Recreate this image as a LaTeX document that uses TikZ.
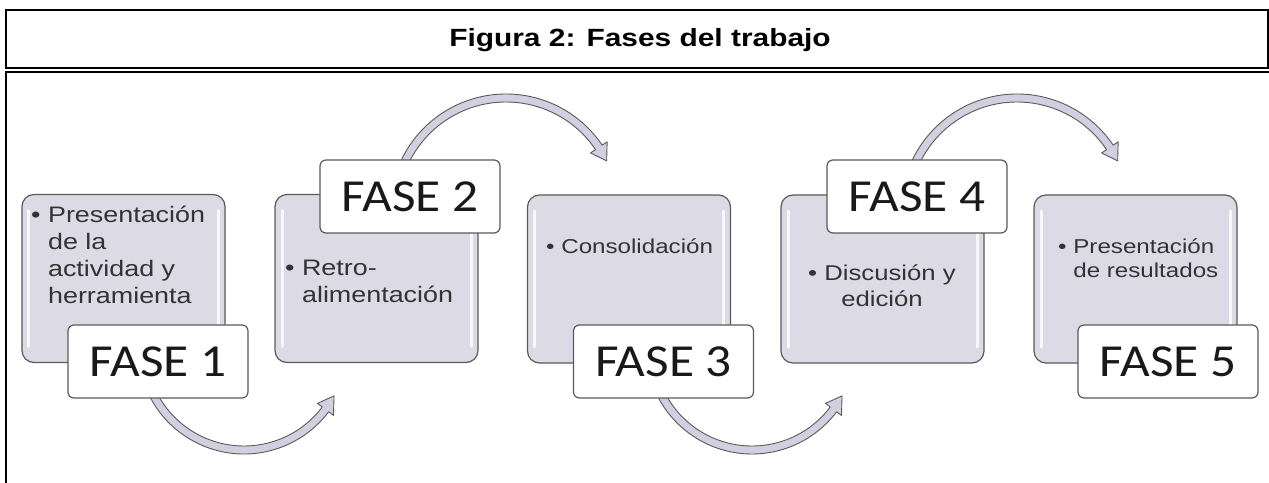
\documentclass[tikz,border=0pt]{standalone}
\usepackage{fontspec}
\setmainfont{Liberation Sans}
\newfontfamily\titlefont[FakeStretch=1.2]{Liberation Sans}
\newfontfamily\itemfont[FakeStretch=1.2]{Liberation Sans}
\newfontfamily\phasefont[FakeStretch=1.12]{Carlito}
\definecolor{boxgray}{HTML}{DCDAE4}
\definecolor{edgegray}{HTML}{5A5A5A}
\definecolor{arrowlav}{HTML}{D2D0E0}
\definecolor{textgray}{HTML}{333333}
\newcommand{\itm}{\textbullet\ }
\newcommand{\ind}{\phantom{\textbullet\ }}

\begin{document}
\begin{tikzpicture}[x=1bp,y=-1bp,
    bandarrow/.style={fill=arrowlav,draw=edgegray,line width=0.9bp,line join=round}]

    \useasboundingbox (0,0) rectangle (1269,483);

    % frame and caption
    \draw[line width=1.5bp] (6,10) rectangle (1268,68);
    \draw[line width=1.5bp] (6,483) -- (6,72) -- (1269,72);
    \node[anchor=base] (title) at (640,47) {\titlefont\bfseries\fontsize{25}{28}\selectfont Figura 2: Fases del trabajo};

    \begin{scope}[every node/.style={rectangle,rounded corners=12bp,draw=edgegray,line width=1.2bp,fill=boxgray,
        minimum width=203bp,minimum height=168bp,
        path picture={\draw[white,opacity=0.8,line width=3bp,line cap=round]
            ([shift={(7bp,-16bp)}]path picture bounding box.north west) -- ([shift={(7bp,16bp)}]path picture bounding box.south west)
            ([shift={(-7bp,-16bp)}]path picture bounding box.north east) -- ([shift={(-7bp,16bp)}]path picture bounding box.south east);}}]
        \node (g1) at (123.5,278.5) {}; % Presentacion
        \node (g2) at (376.5,278.5) {}; % Retroalimentacion
        \node (g3) at (629,279) {};
        \node (g4) at (882.5,279) {};
        \node (g5) at (1135.5,279) {};
    \end{scope}

    % centres of the curved arrows
    \coordinate (c1) at (244,348);
    \coordinate (c2) at (506,210);
    \coordinate (c3) at (752,348);
    \coordinate (c4) at (1017,210);

    \path[bandarrow] ([shift={(160:106)}]c1) arc[start angle=160,end angle=37,radius=106] -- ([shift={(37:112)}]c1) -- ([shift={(28:102)}]c1) -- ([shift={(37:92)}]c1) -- ([shift={(37:98)}]c1) arc[start angle=37,end angle=160,radius=98] -- cycle;
    \path[bandarrow] ([shift={(200:116)}]c2) arc[start angle=200,end angle=326,radius=116] -- ([shift={(326:122)}]c2) -- ([shift={(334:112)}]c2) -- ([shift={(326:102)}]c2) -- ([shift={(326:108)}]c2) arc[start angle=326,end angle=200,radius=108] -- cycle;
    \path[bandarrow] ([shift={(160:106)}]c3) arc[start angle=160,end angle=37,radius=106] -- ([shift={(37:112)}]c3) -- ([shift={(28:102)}]c3) -- ([shift={(37:92)}]c3) -- ([shift={(37:98)}]c3) arc[start angle=37,end angle=160,radius=98] -- cycle;
    \path[bandarrow] ([shift={(200:116)}]c4) arc[start angle=200,end angle=326,radius=116] -- ([shift={(326:122)}]c4) -- ([shift={(334:112)}]c4) -- ([shift={(326:102)}]c4) -- ([shift={(326:108)}]c4) arc[start angle=326,end angle=200,radius=108] -- cycle;

    \begin{scope}[every node/.style={rectangle,rounded corners=6bp,draw=edgegray,line width=1.2bp,fill=white,
        minimum width=180bp,minimum height=73bp,text=black!90,font=\phasefont\fontsize{46}{50}\selectfont}]
        \node (f1) at (158,361.5) {FASE 1};
        \node (f2) at (410,196.5) {FASE 2};
        \node (f3) at (663.5,361.5) {FASE 3};
        \node (f4) at (917,196.5) {FASE 4};
        \node (f5) at (1168,361.5) {FASE 5};
    \end{scope}

    \begin{scope}[every node/.style={inner sep=0pt,text=textgray,align=left,font=\itemfont\fontsize{22.5}{27}\selectfont}]
        \node[anchor=north west] (t1) at (31,206) {\itm Presentación\\\ind de la\\\ind actividad y\\\ind herramienta};
        \node[anchor=north west] (t2) at (285,260) {\itm Retro-\\\ind alimentación};
        \node[anchor=north west,font=\itemfont\fontsize{20.2}{25}\selectfont] (t3) at (546,238) {\itm Consolidación};
        \node[anchor=north,align=center,font=\itemfont\fontsize{21.5}{26}\selectfont] (t4) at (882,265) {\itm Discusión y\\edición};
        \node[anchor=north west,font=\itemfont\fontsize{20.2}{25}\selectfont] (t5) at (1058,238) {\itm Presentación\\\ind de resultados};
    \end{scope}

\end{tikzpicture}
\end{document}
